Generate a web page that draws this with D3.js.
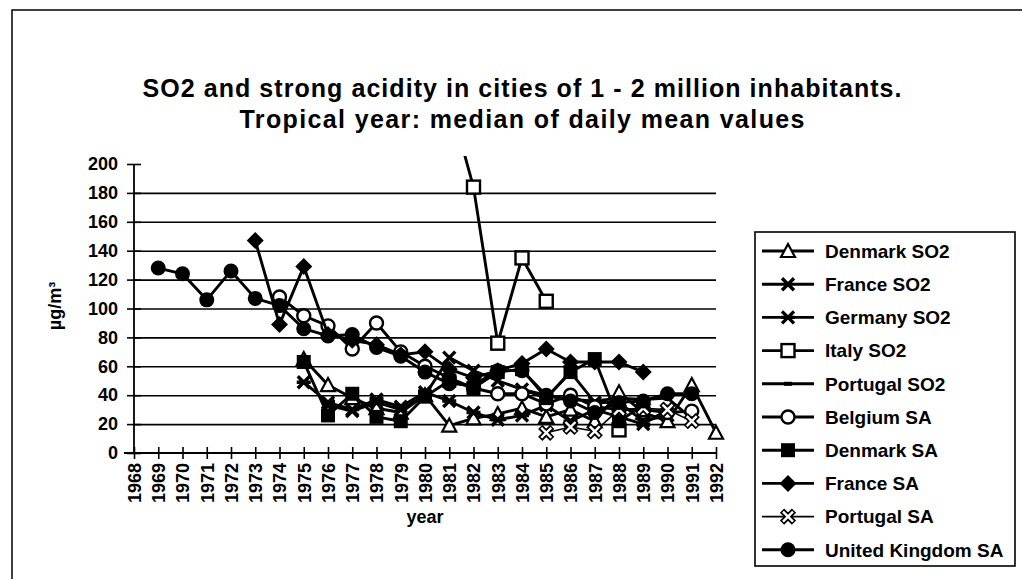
<!DOCTYPE html>
<html>
<head>
<meta charset="utf-8">
<script src="https://cdn.jsdelivr.net/npm/d3@7"></script>
<style>
  body { margin: 0; background: #fff; }
  svg { display: block; font-family: "Liberation Sans", Arial, sans-serif; font-weight: bold; }
</style>
</head>
<body>
<div id="chart"></div>
<script>
// ---- data (null = no value) ----
const years = [1968, 1969, 1970, 1971, 1972, 1973, 1974, 1975, 1976, 1977, 1978, 1979,
  1980, 1981, 1982, 1983, 1984, 1985, 1986, 1987, 1988, 1989, 1990, 1991, 1992];
const yTicks = [0, 20, 40, 60, 80, 100, 120, 140, 160, 180, 200];

const denmarkSO2 = [null, null, null, null, null, null, null, 65, 47, 38, 31, 28, 40, 19, 24, 27, 31, 25, 30, 22, 42, 28, 22, 47, 14];
const franceSO2 = [null, null, null, null, null, null, null, null, 33, 29, 35, 30, 40, 66, 57, 50, 44, 38, 56, 35, 35, 22, 26, null, null];
const germanySO2 = [null, null, null, null, null, null, null, 49, 35, 30, 37, 32, 42, 36, 28, 23, 26, 33, 22, 30, 25, 20, 30, null, null];
const italySO2 = [null, null, null, null, null, null, null, null, null, null, null, null, null, 245, 184, 76, 135, 105, null, null, 16, null, null, null, null];
const portugalSO2 = [null, null, null, null, null, null, null, null, null, null, null, null, null, null, null, null, 44, 40, 37, 36, 38, 37, 38, 24, null];
const belgiumSA = [null, null, null, null, null, null, 108, 95, 88, 72, 90, 70, 60, 52, 45, 41, 41, 34, 40, 32, 30, 30, 28, 29, null];
const denmarkSA = [null, null, null, null, null, null, null, 63, 26, 41, 25, 22, 39, 50, 45, 56, 58, 38, 56, 65, 22, 33, null, null, null];
const franceSA = [null, null, null, null, null, 147, 89, 129, 82, 78, 75, 68, 70, 58, 52, 57, 62, 72, 63, 63, 63, 56, null, null, null];
const portugalSA = [null, null, null, null, null, null, null, null, null, null, null, null, null, null, null, null, null, 14, 18, 15, 30, 31, 30, 22, null];
const ukSA = [null, 128, 124, 106, 126, 107, 102, 86, 81, 82, 73, 67, 56, 48, 47, 57, 57, 40, 36, 28, 35, 36, 41, 41, null];

const seriesNames = ["Denmark SO2", "France SO2", "Germany SO2", "Italy SO2", "Portugal SO2",
  "Belgium SA", "Denmark SA", "France SA", "Portugal SA", "United Kingdom SA"];
const seriesValues = [denmarkSO2, franceSO2, germanySO2, italySO2, portugalSO2,
  belgiumSA, denmarkSA, franceSA, portugalSA, ukSA];
const markerKinds = ["triangle", "x", "asterisk", "openSquare", "dash",
  "openCircle", "square", "diamond", "whiteX", "circle"];

// ---- layout ----
const W = 1022, H = 579;
const svg = d3.select("#chart").append("svg").attr("width", W).attr("height", H);

// outer frame (right and bottom edges fall outside the picture)
svg.append("rect").attr("x", 12).attr("y", 10).attr("width", 1100).attr("height", 700)
  .attr("fill", "none").attr("stroke", "#000").attr("stroke-width", 1.5);

// title
svg.append("text").attr("x", 522).attr("y", 97).attr("text-anchor", "middle")
  .attr("font-size", 25).attr("textLength", 759).attr("lengthAdjust", "spacing")
  .text("SO2 and strong acidity in cities of 1 - 2 million inhabitants.");
svg.append("text").attr("x", 522).attr("y", 128).attr("text-anchor", "middle")
  .attr("font-size", 25).attr("textLength", 565).attr("lengthAdjust", "spacing")
  .text("Tropical year:  median of daily mean values");

const x = d3.scalePoint().domain(years).range([134, 716]);
const y = d3.scaleLinear().domain([0, 200]).range([453, 164]);

// gridlines
svg.append("g").attr("transform", "translate(134,0)")
  .call(d3.axisLeft(y).tickValues(yTicks.filter(v => v > 0 && v < 200)).tickSize(-582).tickFormat(""))
  .call(g => g.select(".domain").remove())
  .call(g => g.selectAll("line").attr("stroke", "#000").attr("stroke-width", 1.6));

// y axis
svg.append("g").attr("transform", "translate(134,0)")
  .call(d3.axisLeft(y).tickValues(yTicks).tickSize(7).tickPadding(9))
  .call(g => g.select(".domain").attr("d", `M0,${y(0)}V${y(200)}`).attr("stroke-width", 1.8))
  .call(g => g.selectAll(".tick line").attr("x1", 7).attr("stroke-width", 1.6))
  .call(g => g.selectAll("text").attr("font-size", 18).attr("font-family", "Liberation Sans, Arial, sans-serif").attr("font-weight", "bold"));

// x axis
svg.append("g").attr("transform", `translate(0,${y(0)})`)
  .call(d3.axisBottom(x).tickSize(6))
  .call(g => g.select(".domain").attr("d", `M${x(1968) - 10},0H${x(1992)}`).attr("stroke-width", 2))
  .call(g => g.selectAll(".tick line").attr("y1", -6).attr("stroke-width", 1.6))
  .call(g => g.selectAll("text")
    .attr("font-size", 18).attr("font-family", "Liberation Sans, Arial, sans-serif").attr("font-weight", "bold")
    .attr("transform", "rotate(-90)").attr("text-anchor", "end")
    .attr("x", -10).attr("y", 0).attr("dy", "0.36em"));

svg.append("text").attr("x", 425).attr("y", 523).attr("text-anchor", "middle")
  .attr("font-size", 18).text("year");
svg.append("text").attr("transform", "translate(61,306) rotate(-90)").attr("text-anchor", "middle")
  .attr("font-size", 18).text("µg/m³");

// markers
function drawMarker(g, kind, cx, cy) {
  const m = g.append("g").attr("transform", `translate(${cx},${cy})`);
  if (kind === "triangle") {
    m.append("path").attr("d", "M0,-7L7,6L-7,6Z").attr("fill", "#fff").attr("stroke", "#000").attr("stroke-width", 2.2);
  } else if (kind === "x") {
    m.append("path").attr("d", "M-6,-6L6,6M-6,6L6,-6").attr("stroke", "#000").attr("stroke-width", 3.4);
  } else if (kind === "asterisk") {
    m.append("path").attr("d", "M-6,-6L6,6M-6,6L6,-6M-7,0H7").attr("stroke", "#000").attr("stroke-width", 3.4);
  } else if (kind === "openSquare") {
    m.append("rect").attr("x", -6.5).attr("y", -6.5).attr("width", 13).attr("height", 13)
      .attr("fill", "#fff").attr("stroke", "#000").attr("stroke-width", 2.4);
  } else if (kind === "dash") {
    m.append("rect").attr("x", -4).attr("y", -2).attr("width", 8).attr("height", 4).attr("fill", "#000");
  } else if (kind === "openCircle") {
    m.append("circle").attr("r", 6.5).attr("fill", "#fff").attr("stroke", "#000").attr("stroke-width", 2.4);
  } else if (kind === "square") {
    m.append("rect").attr("x", -7).attr("y", -7).attr("width", 14).attr("height", 14).attr("fill", "#000");
  } else if (kind === "diamond") {
    m.append("path").attr("d", "M0,-8.5L8.5,0L0,8.5L-8.5,0Z").attr("fill", "#000");
  } else if (kind === "whiteX") {
    m.append("path").attr("d", "M-6,-6L6,6M-6,6L6,-6").attr("stroke", "#000").attr("stroke-width", 6);
    m.append("path").attr("d", "M-5,-5L5,5M-5,5L5,-5").attr("stroke", "#fff").attr("stroke-width", 2.4);
  } else if (kind === "circle") {
    m.append("circle").attr("r", 7.5).attr("fill", "#000");
  }
}

// plot area clipping
svg.append("clipPath").attr("id", "plotClip")
  .append("rect").attr("x", 110).attr("y", 156).attr("width", 630).attr("height", 320);

const plot = svg.append("g").attr("clip-path", "url(#plotClip)");
const line = d3.line().defined(d => d.v != null).x(d => x(d.year)).y(d => y(d.v));

seriesValues.forEach((vals, i) => {
  const pts = years.map((yr, j) => ({ year: yr, v: vals[j] }));
  const g = plot.append("g");
  g.append("path").datum(pts).attr("d", line).attr("fill", "none").attr("stroke", "#000")
    .attr("stroke-width", markerKinds[i] === "whiteX" ? 1.6 : 2.9).attr("stroke-linejoin", "round");
  pts.filter(p => p.v != null).forEach(p => drawMarker(g, markerKinds[i], x(p.year), y(p.v)));
});

// legend
const legend = svg.append("g");
legend.append("rect").attr("x", 755).attr("y", 232).attr("width", 260).attr("height", 334)
  .attr("fill", "#fff").attr("stroke", "#000").attr("stroke-width", 1.6);
seriesNames.forEach((name, i) => {
  const ly = 251 + i * 33.2;
  legend.append("line").attr("x1", 762).attr("x2", 814).attr("y1", ly).attr("y2", ly)
    .attr("stroke", "#000").attr("stroke-width", markerKinds[i] === "whiteX" ? 1.6 : 2.9);
  drawMarker(legend, markerKinds[i], 788, ly);
  legend.append("text").attr("x", 825).attr("y", ly).attr("dy", "0.36em")
    .attr("font-size", 19).text(name);
});
</script>
</body>
</html>
